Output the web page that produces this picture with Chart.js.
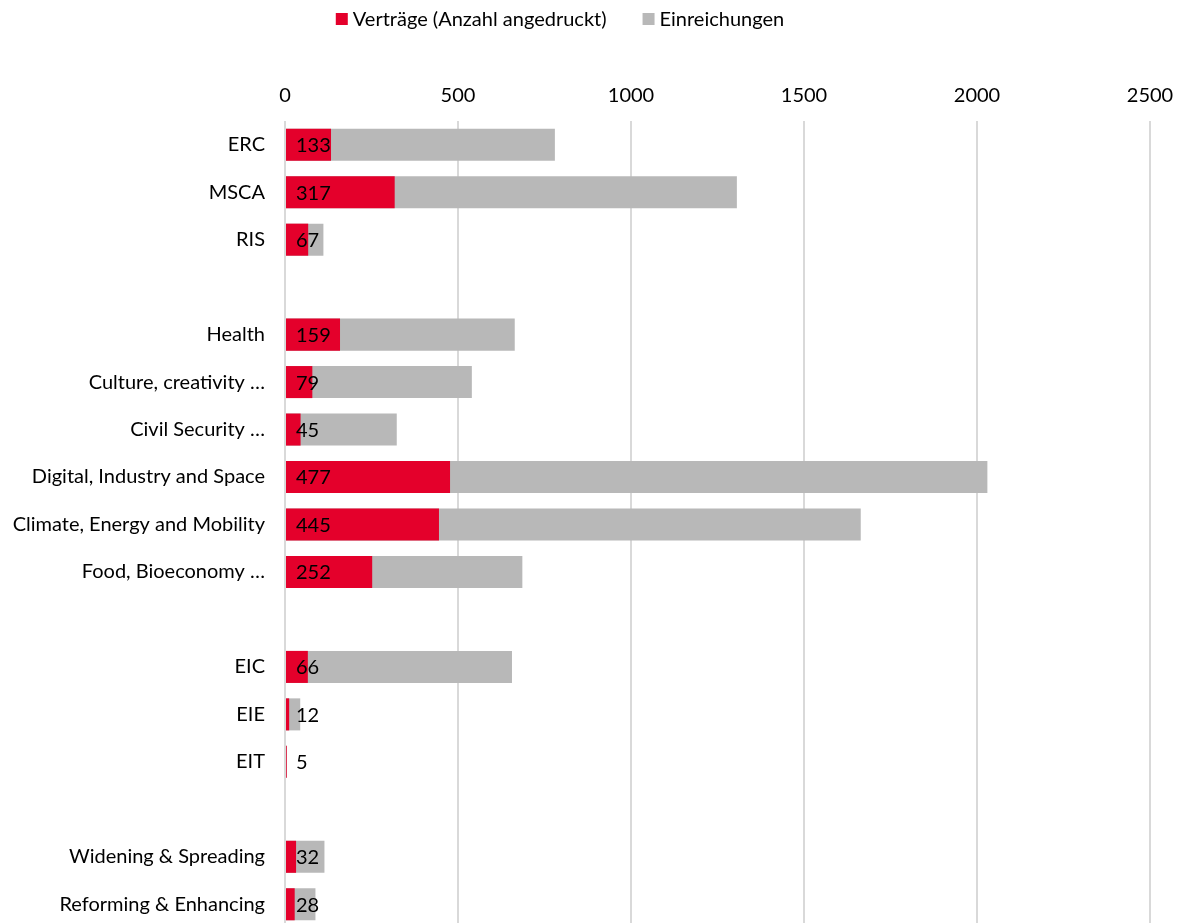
<!DOCTYPE html>
<html>
<head>
<meta charset="utf-8">
<script src="https://cdn.jsdelivr.net/npm/chart.js@4.4.1/dist/chart.umd.min.js"></script>
<style>
  html, body { margin: 0; padding: 0; background: #fff; overflow: hidden; }
  #wrap { width: 1181px; height: 928px; }
</style>
</head>
<body>
<div id="wrap"><canvas id="c" width="1181" height="928"></canvas></div>
<script>
const categories = ["ERC", "MSCA", "RIS", "", "Health", "Culture, creativity …", "Civil Security …",
  "Digital, Industry and Space", "Climate, Energy and Mobility", "Food, Bioeconomy …", "",
  "EIC", "EIE", "EIT", "", "Widening & Spreading", "Reforming & Enhancing"];
const vertraege = [133, 317, 67, null, 159, 79, 45, 477, 445, 252, null, 66, 12, 5, null, 32, 28];
const einreichungen = [780, 1306, 111, null, 664, 540, 323, 2030, 1664, 686, null, 656, 44, 5, null, 114, 88];
const seriesNames = ["Verträge (Anzahl angedruckt)", "Einreichungen"];
const xTicks = [0, 500, 1000, 1500, 2000, 2500];

const FONT = "Lato, 'Open Sans', sans-serif";
const FS = 20;
const RED = "#E4002B";
const GRAY = "#B8B8B8";

const labelPlugin = {
  id: "valueLabels",
  afterDatasetsDraw(chart) {
    const ctx = chart.ctx;
    const meta = chart.getDatasetMeta(0);
    const xs = chart.scales.x;
    ctx.save();
    ctx.font = FS + "px " + FONT;
    ctx.fillStyle = "#000";
    ctx.textAlign = "left";
    ctx.textBaseline = "middle";
    meta.data.forEach((el, i) => {
      const v = vertraege[i];
      if (v === null || v === undefined) return;
      ctx.fillText(String(v), xs.getPixelForValue(0) + 11, el.y + 1);
    });
    ctx.restore();
  }
};

const legendPlugin = {
  id: "customLegend",
  afterDraw(chart) {
    const ctx = chart.ctx;
    ctx.save();
    ctx.font = FS + "px " + FONT;
    ctx.textBaseline = "middle";
    ctx.textAlign = "left";
    const colors = [RED, GRAY];
    const box = 12, gapBox = 5, gapItem = 36;
    let total = 0;
    const widths = seriesNames.map(n => ctx.measureText(n).width);
    widths.forEach((w, i) => { total += box + gapBox + w + (i ? gapItem : 0); });
    let x = 560 - total / 2;
    const cy = 19;
    seriesNames.forEach((n, i) => {
      ctx.fillStyle = colors[i];
      ctx.fillRect(x, cy - 6, box, box);
      ctx.fillStyle = "#000";
      ctx.fillText(n, x + box + gapBox, cy + 1);
      x += box + gapBox + widths[i] + gapItem;
    });
    ctx.restore();
  }
};

new Chart(document.getElementById("c"), {
  type: "bar",
  data: {
    labels: categories,
    datasets: [
      { label: seriesNames[0], data: vertraege, backgroundColor: RED, grouped: false,
        barPercentage: 0.675, categoryPercentage: 1 },
      { label: seriesNames[1], data: einreichungen, backgroundColor: GRAY, grouped: false,
        barPercentage: 0.675, categoryPercentage: 1 }
    ]
  },
  options: {
    indexAxis: "y",
    responsive: false,
    animation: false,
    layout: { padding: { left: 0, right: 31, top: 0, bottom: 0 } },
    plugins: {
      legend: { display: false },
      tooltip: { enabled: false }
    },
    scales: {
      x: {
        position: "top",
        min: 0, max: 2500,
        afterBuildTicks(scale) { scale.ticks = xTicks.map(v => ({ value: v })); },
        afterFit(scale) { scale.height = 121; scale.paddingLeft = 0; scale.paddingRight = 0; },
        ticks: { color: "#000", font: { size: FS, family: FONT }, padding: 13,
                 callback: (v) => String(v) },
        grid: { color: "#D9D9D9", lineWidth: 2, drawTicks: false },
        border: { display: false }
      },
      y: {
        afterFit(scale) { scale.width = 285; scale.paddingTop = 0; scale.paddingBottom = 0; },
        ticks: { color: "#000", font: { size: FS, family: FONT }, padding: 20, autoSkip: false },
        grid: { display: false, drawTicks: false },
        border: { display: false }
      }
    }
  },
  plugins: [labelPlugin, legendPlugin]
});
</script>
</body>
</html>
